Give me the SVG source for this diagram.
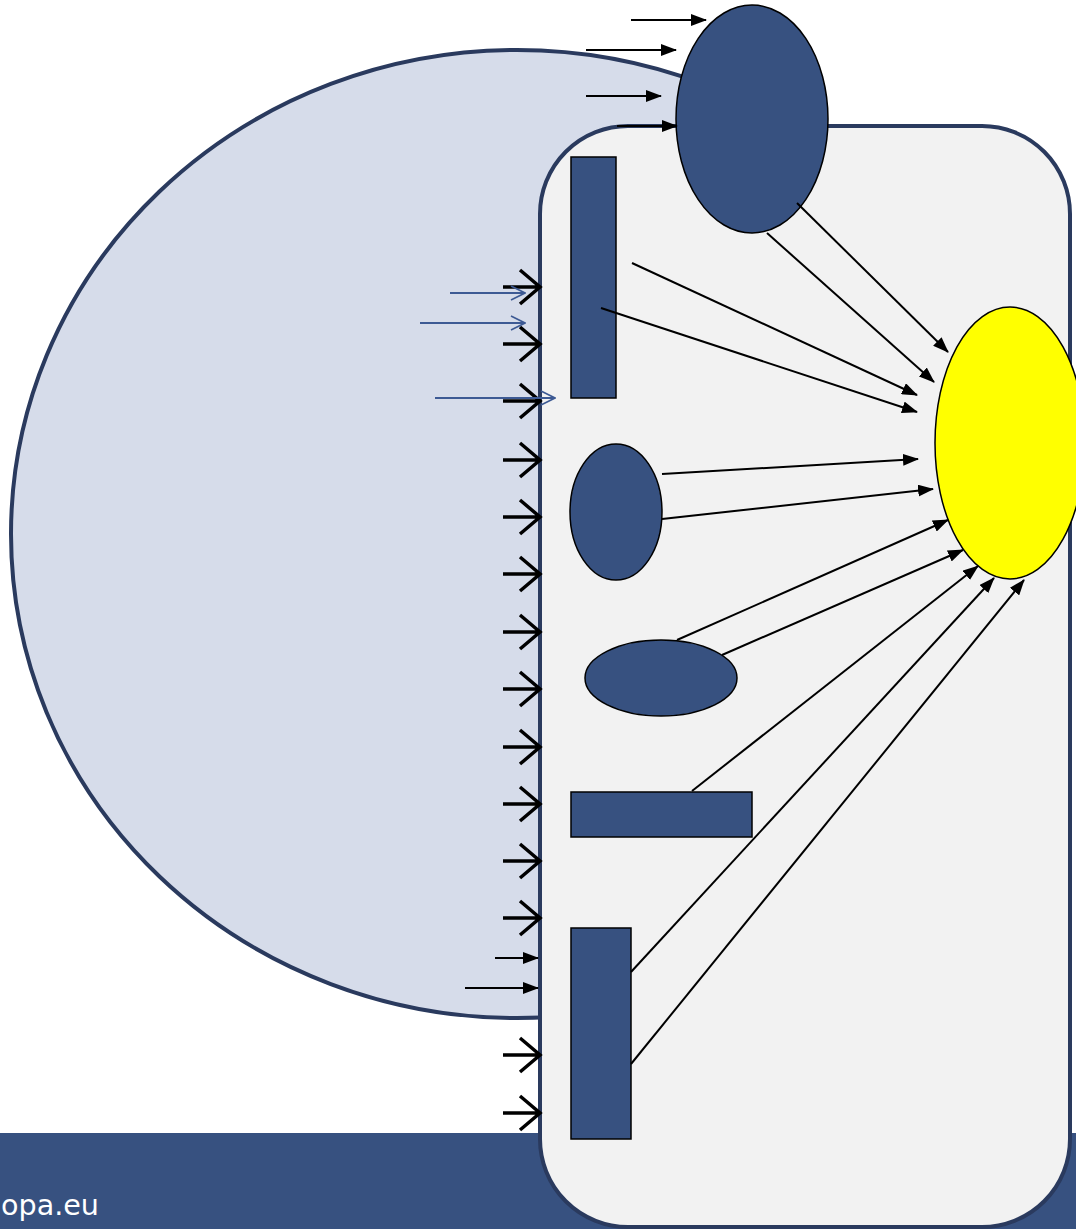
<svg xmlns="http://www.w3.org/2000/svg" xmlns:xlink="http://www.w3.org/1999/xlink" width="1076" height="1229" viewBox="0 0 1076 1229">
<style>
.node{fill:#375180;stroke:#000;stroke-width:1.5}
.con{stroke:#000;stroke-width:2;fill:none;marker-end:url(#arr)}
.blue{stroke:#3d5a94;stroke-width:2;fill:none;marker-end:url(#open)}
.chev{stroke:#000;stroke-width:3.5;fill:none}
</style>
<defs>
<marker id="arr" markerUnits="userSpaceOnUse" markerWidth="16" markerHeight="12" refX="15" refY="6" orient="auto">
<path d="M0,0 L16,6 L0,12 z" fill="#000"/>
</marker>
<marker id="open" markerUnits="userSpaceOnUse" markerWidth="16" markerHeight="16" refX="15" refY="8" orient="auto">
<path d="M1,1 L15,8 L1,15" fill="none" stroke="#3d5a94" stroke-width="1.6"/>
</marker>
<path id="chev" class="chev" d="M-37,0 H0 M-20,-17 L0,0 L-20,17"/>
</defs>

<g id="background">
<ellipse cx="517" cy="534" rx="506" ry="484" fill="#d6dcea" stroke="#2a3a5e" stroke-width="4"/>
<rect x="0" y="1133" width="1076" height="96" fill="#375180"/>
<text x="1" y="1215" font-family="'DejaVu Sans', sans-serif" font-size="28" fill="#fff" textLength="98" lengthAdjust="spacingAndGlyphs">opa.eu</text>
</g>

<g id="cell">
<rect x="540" y="126" width="530" height="1101" rx="88" ry="88" fill="#f2f2f2" stroke="#2a3a5e" stroke-width="4"/>
</g>

<g id="node-top-ellipse"><ellipse class="node" cx="752" cy="119" rx="76" ry="114"/></g>
<g id="node-rect1"><rect class="node" x="571" y="157" width="45" height="241"/></g>
<g id="node-ellipse2"><ellipse class="node" cx="616" cy="512" rx="46" ry="68"/></g>
<g id="node-ellipse3"><ellipse class="node" cx="661" cy="678" rx="76" ry="38"/></g>
<g id="node-rect4"><rect class="node" x="571" y="792" width="181" height="45"/></g>
<g id="node-rect5"><rect class="node" x="571" y="928" width="60" height="211"/></g>
<g id="node-target"><ellipse cx="1010" cy="443" rx="75" ry="136" fill="#ffff00" stroke="#000" stroke-width="1.5"/></g>

<g id="connectors">
<line class="con" x1="631" y1="20" x2="706" y2="20"/>
<line class="con" x1="586" y1="50" x2="676" y2="50"/>
<line class="con" x1="586" y1="96" x2="661" y2="96"/>
<line class="con" x1="617" y1="126" x2="677" y2="126"/>

<line class="con" x1="632" y1="263" x2="917" y2="395"/>
<line class="con" x1="601" y1="308" x2="917" y2="412"/>
<line class="con" x1="797" y1="203" x2="948" y2="352"/>
<line class="con" x1="767" y1="233" x2="934" y2="382"/>
<line class="con" x1="662" y1="474" x2="918" y2="459"/>
<line class="con" x1="662" y1="519" x2="933" y2="489"/>
<line class="con" x1="677" y1="640" x2="948" y2="520"/>
<line class="con" x1="722" y1="655" x2="963" y2="550"/>
<line class="con" x1="692" y1="791" x2="978" y2="566"/>
<line class="con" x1="631" y1="972" x2="994" y2="578"/>
<line class="con" x1="631" y1="1064" x2="1024" y2="580"/>

<line class="con" x1="495" y1="958" x2="538" y2="958"/>
<line class="con" x1="465" y1="988" x2="538" y2="988"/>

<use xlink:href="#chev" x="540" y="287"/>
<use xlink:href="#chev" x="540" y="344"/>
<use xlink:href="#chev" x="540" y="401"/>
<use xlink:href="#chev" x="540" y="460"/>
<use xlink:href="#chev" x="540" y="517"/>
<use xlink:href="#chev" x="540" y="574"/>
<use xlink:href="#chev" x="540" y="632"/>
<use xlink:href="#chev" x="540" y="689"/>
<use xlink:href="#chev" x="540" y="747"/>
<use xlink:href="#chev" x="540" y="804"/>
<use xlink:href="#chev" x="540" y="861"/>
<use xlink:href="#chev" x="540" y="918"/>
<use xlink:href="#chev" x="540" y="1055"/>
<use xlink:href="#chev" x="540" y="1113"/>

<line class="blue" x1="450" y1="293" x2="525" y2="293"/>
<line class="blue" x1="420" y1="323" x2="525" y2="323"/>
<line class="blue" x1="435" y1="398" x2="555" y2="398"/>
</g>
</svg>
